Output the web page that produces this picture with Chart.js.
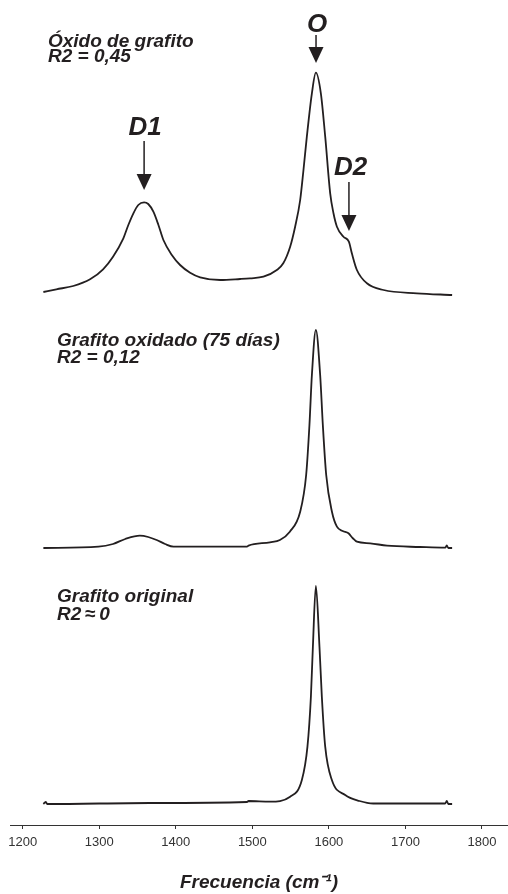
<!DOCTYPE html>
<html lang="es">
<head>
<meta charset="UTF-8" />
<title>Espectros Raman - grafito</title>
<script src="https://cdn.jsdelivr.net/npm/chart.js@4.4.0/dist/chart.umd.min.js"></script>
<style>
  html, body { margin: 0; padding: 0; background: #fff; overflow: hidden; }
  .chart-container { position: relative; width: 508px; height: 894px; }
</style>
</head>
<body>
<div class="chart-container">
  <canvas id="ramanChart"></canvas>
</div>

<script>
// ---------- datos (frecuencia en cm-1, intensidad en u.a.) ----------
// Óxido de grafito, R2 = 0,45
const oxidoWn  = [1227, 1244, 1266, 1288, 1305, 1318, 1331.5, 1338, 1344.6, 1351, 1358.6, 1364, 1370.7, 1377.3, 1383.8, 1394.8, 1405.6, 1418.7, 1431.8, 1458, 1484, 1497, 1514.5, 1532, 1540.4, 1549.4, 1555.9, 1562.5, 1566.8, 1571.2, 1577.8, 1583, 1589.5, 1595.2, 1601.7, 1606, 1610.5, 1619.1, 1626.1, 1630, 1636.6, 1649.7, 1671.4, 1715, 1761];
const oxidoInt = [3, 5.7, 9, 15.7, 25.7, 38.3, 56.7, 70, 81.7, 90, 92.7, 91, 83.3, 70, 55, 40, 30, 22.3, 17.7, 15, 16, 16.7, 18.3, 25, 31.7, 48.3, 68.3, 95, 125, 158.3, 201.7, 222.3, 201.7, 158.3, 101.7, 81.7, 68.3, 58.3, 53.3, 41.7, 25, 11.7, 5, 1.7, 0];

// Grafito oxidado (75 días), R2 = 0,12
const oxidadoWn  = [1227, 1299, 1318, 1334, 1353, 1364, 1375, 1386, 1397, 1493, 1495, 1523, 1536, 1549, 1562.5, 1570.3, 1574.6, 1577.8, 1583, 1588.6, 1592.1, 1596.5, 1604, 1610.5, 1618, 1625.6, 1631, 1636.6, 1654, 1676, 1719, 1752, 1754, 1756, 1761];
const oxidadoInt = [0, 1.3, 4, 9, 12.3, 11, 8, 4, 1.3, 1.3, 2.3, 5.7, 8, 16.3, 36.3, 73, 123, 173, 218, 173, 123, 73, 36.3, 21.3, 17, 14.7, 10, 6.3, 4.7, 2.3, 1, 0.3, 2.5, 0, 0];

// Grafito original, R2 ≈ 0
const originalWn  = [1227, 1230, 1232, 1366, 1493, 1495, 1523, 1549.4, 1564.7, 1572, 1576.5, 1579.1, 1583, 1587.7, 1590.8, 1595.2, 1603.9, 1621.3, 1640, 1658, 1752, 1754, 1756, 1761];
const originalInt = [0, 2, 0, 1, 2, 3, 2.3, 7.3, 24, 57.3, 107.3, 157.3, 218, 157.3, 107.3, 57.3, 24, 9, 3, 0.5, 0.5, 3, 0, 0];

// desplazamiento vertical de cada espectro
const oxidoOffset = 530;
const oxidadoOffset = 277;
const originalOffset = 21;

const xTicks = [1200, 1300, 1400, 1500, 1600, 1700, 1800];

function toPoints(wn, inten, offset) {
  return wn.map(function (x, i) {
    return { x: x, y: inten[i] + offset };
  });
}

const FONT = '"Liberation Sans", Arial, Helvetica, sans-serif';
const INK = "#231f20";

// ---------- textos y flechas sobre el gráfico ----------
const annotationPlugin = {
  id: "ramanLabels",
  afterDraw(chart) {
    const ctx = chart.ctx;
    const xs = chart.scales.x;
    const ys = chart.scales.y;
    const px = (v) => xs.getPixelForValue(v);
    const py = (v) => ys.getPixelForValue(v);

    ctx.save();
    ctx.fillStyle = INK;
    ctx.strokeStyle = INK;

    // nombres de las muestras
    ctx.font = "italic bold 19px " + FONT;
    ctx.textAlign = "left";
    ctx.textBaseline = "alphabetic";
    [
      ["Óxido de grafito", 1233, 778],
      ["R2 = 0,45", 1233, 763],
      ["Grafito oxidado (75 días)", 1244.8, 479],
      ["R2 = 0,12", 1244.8, 462],
      ["Grafito original", 1244.8, 223],
      ["R2\u2009\u2248\u20090", 1244.8, 205],
    ].forEach(function (t) {
      ctx.fillText(t[0], px(t[1]), py(t[2]));
    });

    // bandas D1, O, D2
    ctx.font = "italic bold 26px " + FONT;
    ctx.textAlign = "center";
    [
      ["D1", 1360, 690],
      ["O", 1584.5, 793],
      ["D2", 1628.5, 650],
    ].forEach(function (t) {
      ctx.fillText(t[0], px(t[1]), py(t[2]));
    });

    // flechas: [x, y inicio, y punta]
    ctx.lineWidth = 1.5;
    [
      [1358.6, 684, 635],
      [1583.2, 790, 762],
      [1626.2, 643, 594],
    ].forEach(function (a) {
      const x = px(a[0]);
      const y0 = py(a[1]);
      const y1 = py(a[2]);
      ctx.beginPath();
      ctx.moveTo(x, y0);
      ctx.lineTo(x, y1 - 14);
      ctx.stroke();
      ctx.beginPath();
      ctx.moveTo(x - 7.5, y1 - 16);
      ctx.lineTo(x + 7.5, y1 - 16);
      ctx.lineTo(x, y1);
      ctx.closePath();
      ctx.fill();
    });
    ctx.restore();
  },
};

function spectrum(label, points) {
  return {
    label: label,
    data: points,
    borderColor: INK,
    borderWidth: 1.8,
    pointRadius: 0,
    fill: false,
    cubicInterpolationMode: "monotone",
  };
}

const ctx = document.getElementById("ramanChart").getContext("2d");
const ramanChart = new Chart(ctx, {
  type: "line",
  data: {
    datasets: [
      spectrum("Óxido de grafito", toPoints(oxidoWn, oxidoInt, oxidoOffset)),
      spectrum("Grafito oxidado (75 días)", toPoints(oxidadoWn, oxidadoInt, oxidadoOffset)),
      spectrum("Grafito original", toPoints(originalWn, originalInt, originalOffset)),
    ],
  },
  options: {
    responsive: true,
    maintainAspectRatio: false,
    animation: false,
    layout: { padding: { top: 25, left: 10, right: 0, bottom: 0 } },
    plugins: {
      legend: { display: false },
      tooltip: { enabled: false },
    },
    scales: {
      x: {
        type: "linear",
        min: 1183.4,
        max: 1834,
        afterBuildTicks(scale) {
          scale.ticks = xTicks.map((v) => ({ value: v }));
        },
        afterFit(scale) {
          scale.height = 69;
        },
        border: { display: true, color: "#333", width: 1 },
        grid: { drawOnChartArea: false, drawTicks: true, tickLength: 4, color: "#333" },
        ticks: {
          color: "#333",
          padding: 6,
          font: { family: FONT, size: 13 },
          callback: (v) => String(v),
        },
        title: {
          display: true,
          text: "Frecuencia (cm\u207B\u00B9)",
          color: INK,
          font: { family: FONT, size: 19, weight: "bold", style: "italic" },
          padding: { top: 0, bottom: 0 },
        },
      },
      y: {
        type: "linear",
        display: false,
        min: 0,
        max: 800,
      },
    },
  },
  plugins: [annotationPlugin],
});
</script>
</body>
</html>
